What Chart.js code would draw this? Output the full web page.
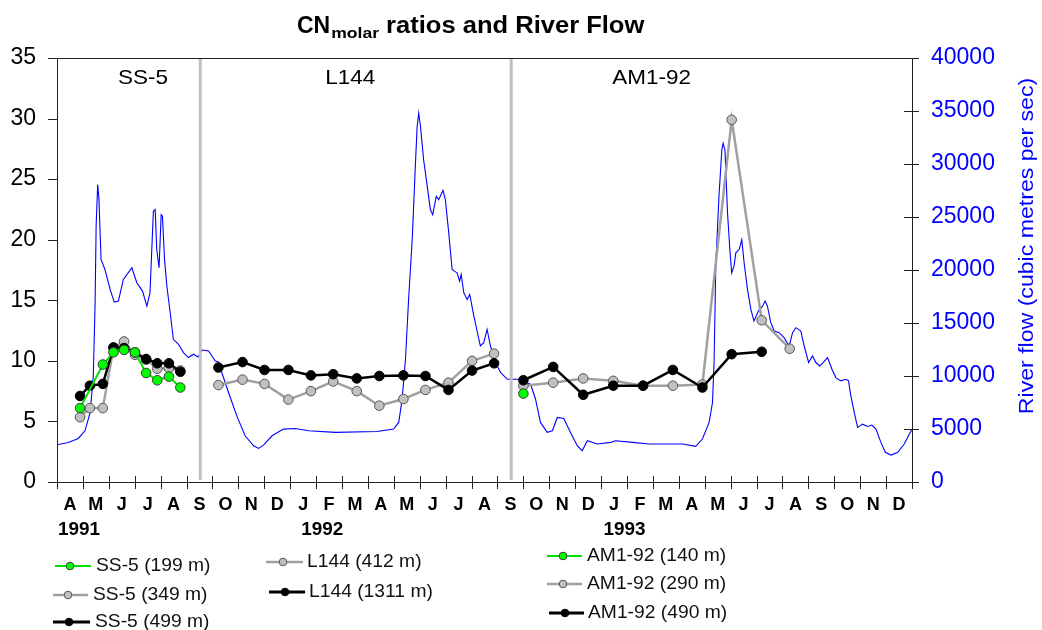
<!DOCTYPE html>
<html>
<head>
<meta charset="utf-8">
<title>CN molar ratios and River Flow</title>
<script src="https://cdn.jsdelivr.net/npm/chart.js@4.4.1/dist/chart.umd.min.js"></script>
<style>
  html, body { margin: 0; padding: 0; background: #fff; }
  #wrap { position: relative; width: 1042px; height: 630px; }
</style>
</head>
<body>
<div id="wrap"><canvas id="cnChart" width="1042" height="630"></canvas></div>
<script>
// x is counted in months from 1 April 1991 (0) to the end of December 1993 (33)
const monthLetters = ['A','M','J','J','A','S','O','N','D','J','F','M','A','M','J','J','A','S','O','N','D','J','F','M','A','M','J','J','A','S','O','N','D'];
const yearLabels = ['1991', '1992', '1993'];
const yearAt = [0.85, 10.24, 21.9];

const cruiseNames = ['SS-5', 'L144', 'AM1-92'];
const cruiseLabelAt = [3.32, 11.32, 22.95];
const cruiseBreaks = [5.53, 17.53];

// SS-5 cruise
const ss5Months = [0.89, 1.27, 1.77, 2.18, 2.59, 3.01, 3.44, 3.87, 4.32, 4.76];
const ss5_199 = [6.1, null, 9.7, 10.7, 10.9, 10.7, 9.0, 8.4, 8.7, 7.8];
const ss5_349 = [5.35, 6.1, 6.1, 11.1, 11.6, 10.5, 10.1, 9.35, 9.4, 9.2];
const ss5_499 = [7.1, 7.95, 8.1, 11.1, 11.05, 10.7, 10.15, 9.8, 9.8, 9.1];

// L144 cruise
const l144Months = [6.23, 7.16, 8.01, 8.93, 9.80, 10.66, 11.57, 12.44, 13.37, 14.22, 15.11, 16.02, 16.87];
const l144_412 = [8.0, 8.45, 8.1, 6.8, 7.5, 8.3, 7.5, 6.3, 6.85, 7.6, 8.2, 10.0, 10.6];
const l144_1311 = [9.45, 9.9, 9.25, 9.25, 8.8, 8.9, 8.55, 8.75, 8.8, 8.75, 7.6, 9.2, 9.8];

// AM1-92 cruise
const am1Months = [18.0, 19.15, 20.31, 21.47, 22.62, 23.77, 24.91, 26.04, 27.2, 28.28];
const am1_140 = [7.3, null, null, null, null, null, null, null, null, null];
const am1_290 = [7.95, 8.2, 8.55, 8.35, 7.95, 7.95, 8.05, 29.9, 13.35, 11.0];
const am1_490 = [8.4, 9.5, 7.2, 7.95, 7.95, 9.25, 7.8, 10.55, 10.75, null];

// river flow, cubic metres per second
const flowMonths = [
  0, 0.44, 0.82, 1.08, 1.28, 1.40, 1.47, 1.51, 1.57, 1.62, 1.70, 1.85, 2.05, 2.21, 2.37, 2.56, 2.89,
  3.08, 3.30, 3.47, 3.59, 3.72, 3.79, 3.85, 3.94, 4.02, 4.07, 4.15, 4.24, 4.37, 4.49, 4.69, 4.88,
  5.07, 5.27, 5.44, 5.61, 5.85, 6.11, 6.23, 6.36, 6.62, 6.94, 7.26, 7.59, 7.78, 7.97, 8.30, 8.74,
  9.20, 9.71, 10.74,
  12.35, 12.99, 13.19, 13.32, 13.45, 13.57, 13.71, 13.83, 13.90, 13.96, 14.03, 14.15, 14.29, 14.41,
  14.50, 14.64, 14.73, 14.90, 14.99, 15.12, 15.25, 15.34, 15.44, 15.54, 15.60, 15.70, 15.83, 15.93,
  16.09, 16.34, 16.47, 16.60, 16.73, 16.92, 17.12, 17.38, 17.76, 18.02, 18.28, 18.47, 18.66, 18.92,
  19.12, 19.31, 19.56, 19.82, 20.08, 20.27, 20.47, 20.85, 21.37,
  21.56, 22.21, 22.85, 23.49, 24.14, 24.65, 24.91, 25.17, 25.30, 25.36, 25.43, 25.55, 25.66, 25.71,
  25.78, 25.88, 25.97, 26.04, 26.13, 26.20, 26.33, 26.43, 26.52, 26.65, 26.78, 26.90, 27.07, 27.23,
  27.33, 27.42, 27.55, 27.68, 27.87, 28.06, 28.26, 28.39, 28.52, 28.71, 28.84, 29.01, 29.16, 29.29,
  29.44, 29.57, 29.74, 29.91, 30.06, 30.25, 30.45, 30.55, 30.64, 30.77, 30.90, 31.09, 31.29, 31.45,
  31.61, 31.80, 31.97, 32.19, 32.45, 32.70, 33.00
];
const flowValues = [
  3510, 3730, 4110, 4830, 6560, 10000, 16750, 24120, 28050, 26640, 20990, 20050, 18170, 16970, 17070, 19110, 20210,
  18800, 18010, 16590, 17860, 25540, 25700, 21930, 20210, 25220, 25070, 20990, 18480, 15970, 13460, 12990, 12210,
  11740, 12050, 11790, 12450, 12360, 11420, 11320, 10330, 8440, 6240, 4360, 3420, 3170, 3480, 4360, 4990,
  5050, 4830, 4680,
  4770, 4990, 5620, 7810, 11580, 17220, 22870, 29770, 33540, 34800, 33540, 30400, 27890, 25700,
  25220, 26950, 26640, 27510, 26640, 23500, 20050, 19890, 19740, 18950, 19580, 17860, 17220, 17700,
  15650, 12830, 13150, 14400, 12830, 11270, 10330, 9690, 9690, 9440, 9220, 7810, 5620, 4680,
  4830, 6090, 6000, 4680, 3420, 2950, 3890, 3580, 3740,
  3890, 3740, 3580, 3580, 3580, 3360, 4050, 5620, 7500, 11270, 20680, 26950, 31340, 31970,
  31340, 25380, 21930, 19740, 20360, 21620, 21930, 22870, 20680, 18170, 16280, 15180, 16120, 16590,
  17070, 16590, 15030, 14240, 14090, 13620, 12830, 14090, 14560, 14240, 12830, 11270, 11890, 11270,
  10950, 11270, 11740, 10640, 9850, 9540, 9690, 9540, 8120, 6560, 5150, 5460, 5240, 5370,
  4990, 3740, 2800, 2540, 2800, 3580, 4990
];

const legendLabels = [
  ['SS-5 (199 m)', 'SS-5 (349 m)', 'SS-5 (499 m)'],
  ['L144 (412 m)', 'L144 (1311 m)'],
  ['AM1-92 (140 m)', 'AM1-92 (290 m)', 'AM1-92 (490 m)']
];

const FONT = '"Liberation Sans", Arial, sans-serif';

const styles = {
  green: { line: '#00e000', width: 2, fill: '#00ff00', edge: '#3a3a3a' },
  gray: { line: '#a0a0a0', width: 2.5, fill: '#c0c0c0', edge: '#555555' },
  black: { line: '#000000', width: 2.5, fill: '#000000', edge: '#000000' }
};

function toPoints(months, values) {
  const pts = [];
  months.forEach((m, i) => {
    if (values[i] !== null && values[i] !== undefined) pts.push({ x: m, y: values[i] });
  });
  return pts;
}

function cnSet(label, months, values, style, order) {
  const s = styles[style];
  return {
    label: label,
    data: toPoints(months, values),
    yAxisID: 'y',
    showLine: true,
    borderColor: s.line,
    borderWidth: s.width,
    pointRadius: 4.8,
    pointBackgroundColor: s.fill,
    pointBorderColor: s.edge,
    pointBorderWidth: 1,
    order: order
  };
}

function drawText(ctx, text, x, y, font, color, align, sx) {
  ctx.save();
  ctx.font = font;
  ctx.fillStyle = color;
  ctx.textAlign = align || 'left';
  ctx.textBaseline = 'middle';
  ctx.translate(x, y);
  ctx.scale(sx || 1, 1);
  ctx.fillText(text, 0, 0);
  ctx.restore();
}

function legendItem(ctx, x1, x2, mx, y, style, lw, text, tx) {
  const s = styles[style];
  ctx.save();
  ctx.strokeStyle = s.line;
  ctx.lineWidth = lw;
  ctx.beginPath();
  ctx.moveTo(x1, y);
  ctx.lineTo(x2, y);
  ctx.stroke();
  ctx.beginPath();
  ctx.arc(mx, y, 3.8, 0, Math.PI * 2);
  ctx.fillStyle = s.fill;
  ctx.fill();
  ctx.lineWidth = 1;
  ctx.strokeStyle = s.edge;
  ctx.stroke();
  ctx.restore();
  drawText(ctx, text, tx, y, '18px ' + FONT, '#111', 'left', 1.07);
}

const decorPlugin = {
  id: 'decor',
  afterDatasetsDraw(chart) {
    const { ctx, chartArea: a } = chart;
    const x = chart.scales.x;
    ctx.save();
    ctx.strokeStyle = '#c0c0c0';
    ctx.lineWidth = 3;
    cruiseBreaks.forEach(m => {
      const px = x.getPixelForValue(m);
      ctx.beginPath();
      ctx.moveTo(px, a.top + 1);
      ctx.lineTo(px, a.bottom - 2);
      ctx.stroke();
    });
    ctx.restore();
  },
  afterDraw(chart) {
    const { ctx, chartArea: a } = chart;
    const x = chart.scales.x, y = chart.scales.y, y2 = chart.scales.y2;

    ctx.save();
    ctx.strokeStyle = '#222';
    ctx.lineWidth = 1;
    ctx.beginPath();
    // top frame
    ctx.moveTo(a.left - 9, Math.round(a.top) + 0.5);
    ctx.lineTo(a.right, Math.round(a.top) + 0.5);
    // left ticks
    for (let v = 0; v <= 35; v += 5) {
      const py = Math.round(y.getPixelForValue(v)) + 0.5;
      ctx.moveTo(a.left - 9, py);
      ctx.lineTo(a.left, py);
    }
    // right ticks cross the axis
    for (let v = 0; v <= 40000; v += 5000) {
      const py = Math.round(y2.getPixelForValue(v)) + 0.5;
      ctx.moveTo(a.right - 8, py);
      ctx.lineTo(a.right + 7, py);
    }
    // month boundary ticks cross the axis
    for (let m = 0; m <= 33; m++) {
      const px = Math.round(x.getPixelForValue(m)) + 0.5;
      ctx.moveTo(px, a.bottom - 6);
      ctx.lineTo(px, a.bottom + 7);
    }
    ctx.stroke();
    ctx.restore();

    // month letters centred in each month
    monthLetters.forEach((t, i) => {
      drawText(ctx, t, x.getPixelForValue(i + 0.5), a.bottom + 23, 'bold 18px ' + FONT, '#000', 'center', 1);
    });
    yearLabels.forEach((t, i) => {
      drawText(ctx, t, x.getPixelForValue(yearAt[i]), a.bottom + 48, 'bold 18px ' + FONT, '#000', 'center', 1.05);
    });

    // cruise names
    cruiseNames.forEach((t, i) => {
      drawText(ctx, t, x.getPixelForValue(cruiseLabelAt[i]), 78, '21px ' + FONT, '#000', 'center', 1.07);
    });

    // title with subscript
    ctx.save();
    let tx = 297;
    const ty = 27;
    ctx.font = 'bold 23px ' + FONT;
    drawText(ctx, 'CN', tx, ty, 'bold 23px ' + FONT, '#000', 'left', 1.0);
    tx += ctx.measureText('CN').width * 1.0;
    ctx.font = 'bold 15px ' + FONT;
    drawText(ctx, 'molar', tx + 1, ty + 7, 'bold 15px ' + FONT, '#000', 'left', 1.17);
    tx += ctx.measureText('molar').width * 1.17 + 1;
    drawText(ctx, ' ratios and River Flow', tx, ty, 'bold 23px ' + FONT, '#000', 'left', 1.11);
    ctx.restore();

    // right axis title
    ctx.save();
    ctx.translate(1027, 246);
    ctx.rotate(-Math.PI / 2);
    drawText(ctx, 'River flow (cubic metres per sec)', 0, 0, '21px ' + FONT, '#0000ff', 'center', 1.1);
    ctx.restore();

    // legend
    legendItem(ctx, 55, 91, 70, 566, 'green', 2, legendLabels[0][0], 96);
    legendItem(ctx, 53, 88, 68, 595, 'gray', 2.5, legendLabels[0][1], 93);
    legendItem(ctx, 53, 90, 69, 622, 'black', 3, legendLabels[0][2], 95);
    legendItem(ctx, 266, 303, 283, 562, 'gray', 2.5, legendLabels[1][0], 307);
    legendItem(ctx, 269, 305, 285, 592, 'black', 3, legendLabels[1][1], 309);
    legendItem(ctx, 547, 582, 563, 556, 'green', 2, legendLabels[2][0], 587);
    legendItem(ctx, 547, 582, 563, 584, 'gray', 2.5, legendLabels[2][1], 587);
    legendItem(ctx, 549, 584, 565, 613, 'black', 3, legendLabels[2][2], 588);
  }
};

const datasets = [
  {
    label: 'River flow',
    data: toPoints(flowMonths, flowValues),
    yAxisID: 'y2',
    showLine: true,
    borderColor: '#0000ff',
    borderWidth: 1.1,
    pointRadius: 0,
    order: 10
  },
  cnSet(legendLabels[0][1], ss5Months, ss5_349, 'gray', 3),
  cnSet(legendLabels[0][2], ss5Months, ss5_499, 'black', 2),
  cnSet(legendLabels[0][0], ss5Months, ss5_199, 'green', 1),
  cnSet(legendLabels[1][0], l144Months, l144_412, 'gray', 3),
  cnSet(legendLabels[1][1], l144Months, l144_1311, 'black', 2),
  cnSet(legendLabels[2][1], am1Months, am1_290, 'gray', 3),
  cnSet(legendLabels[2][2], am1Months, am1_490, 'black', 2),
  cnSet(legendLabels[2][0], am1Months, am1_140, 'green', 1)
];

new Chart(document.getElementById('cnChart'), {
  type: 'scatter',
  data: { datasets: datasets },
  plugins: [decorPlugin],
  options: {
    responsive: false,
    animation: false,
    layout: { padding: { top: 58, left: 0, right: 0, bottom: 0 } },
    plugins: {
      legend: { display: false },
      title: { display: false },
      tooltip: { enabled: false }
    },
    scales: {
      x: {
        type: 'linear',
        min: 0,
        max: 33,
        ticks: { display: false },
        grid: { display: false },
        border: { display: true, color: '#222', width: 1 },
        afterFit: s => { s.height = 148; }
      },
      y: {
        position: 'left',
        min: 0,
        max: 35,
        ticks: { stepSize: 5, color: '#000', padding: 21, font: { family: FONT, size: 23 } },
        grid: { drawOnChartArea: false, drawTicks: false },
        border: { display: true, color: '#222', width: 1 },
        afterFit: s => { s.width = 57; }
      },
      y2: {
        position: 'right',
        min: 0,
        max: 40000,
        ticks: {
          stepSize: 5000,
          color: '#0000ff',
          padding: 19,
          font: { family: FONT, size: 23 },
          callback: v => String(v)
        },
        grid: { drawOnChartArea: false, drawTicks: false },
        border: { display: true, color: '#222', width: 1 },
        afterFit: s => { s.width = 130; }
      }
    }
  }
});
</script>
</body>
</html>
